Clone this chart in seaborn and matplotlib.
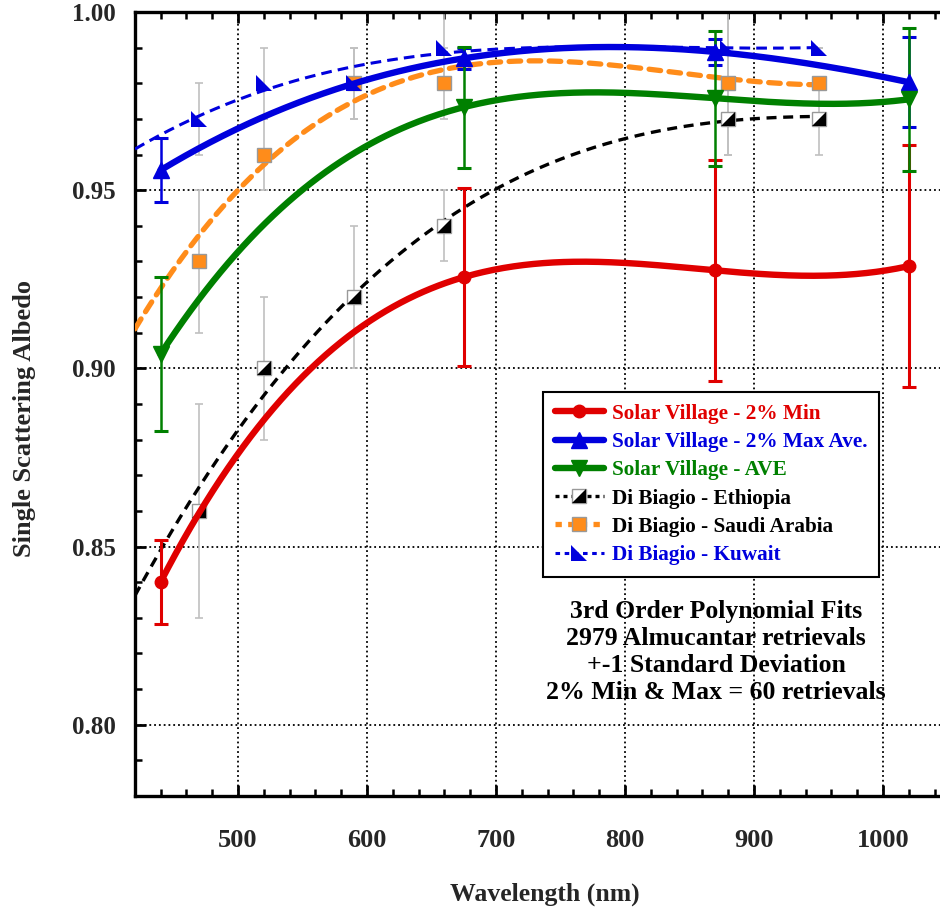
import numpy as np
import pandas as pd
import matplotlib
matplotlib.use("Agg")
import matplotlib.pyplot as plt
import seaborn as sns
from matplotlib.lines import Line2D
from matplotlib.legend_handler import HandlerTuple
from matplotlib.ticker import MultipleLocator

# ---------------- data ----------------
sv_wl = [440, 675, 870, 1020]
sv_min = [0.840, 0.9256, 0.9275, 0.9287]
sv_min_err = [0.0117, 0.025, 0.031, 0.034]
sv_max = [0.9556, 0.987, 0.9888, 0.9803]
sv_max_err = [0.009, 0.003, 0.0037, 0.0127]
sv_ave = [0.904, 0.9733, 0.9758, 0.9755]
sv_ave_err = [0.0215, 0.017, 0.019, 0.020]

db_wl = [470, 520, 590, 660, 880, 950]
eth = [0.86, 0.90, 0.92, 0.94, 0.97, 0.97]
eth_err = [0.03, 0.02, 0.02, 0.01, 0.01, 0.01]
sau = [0.93, 0.96, 0.98, 0.98, 0.98, 0.98]
sau_err = [0.02, 0.01, 0.01, 0.01, 0.02, 0.0]
kuw = [0.97, 0.98, 0.98, 0.99, 0.99, 0.99]
kuw_err = [0.01, 0.01, 0.01, 0.01, 0.01, 0.0]

fit_wl = [420, 470, 520, 590, 660, 740, 880, 950]
eth_fit = [0.8357, 0.8670, 0.8930, 0.9210, 0.9400, 0.9580, 0.9697, 0.9705]
sau_fit = [0.9115, 0.9360, 0.9580, 0.9753, 0.9837, 0.9860, 0.9815, 0.9795]
kuw_fit = [0.9618, 0.9700, 0.9787, 0.9846, 0.9885, 0.9900, 0.9900, 0.9900]

labels = ["Solar Village - 2% Min", "Solar Village - 2% Max Ave.",
          "Solar Village - AVE", "Di Biagio - Ethiopia",
          "Di Biagio - Saudi Arabia", "Di Biagio - Kuwait"]
notes = ["3rd Order Polynomial Fits", "2979 Almucantar retrievals",
         "+-1 Standard Deviation", "2% Min & Max = 60 retrievals"]
xticks = [500, 600, 700, 800, 900, 1000]
yticks = [0.80, 0.85, 0.90, 0.95, 1.00]

RED, BLUE, GREEN, ORANGE, GREY = "#e00000", "#0000dd", "#008000", "#ff8c1a", "#c0c0c0"

sns.set_theme(style="white")
plt.rcParams["font.family"] = ["Liberation Serif", "DejaVu Serif"]
plt.rcParams["font.weight"] = "bold"

fig = plt.figure(figsize=(9.4, 9.1), dpi=100)
ax = fig.add_axes([0.1436, 0.1253, 0.8585, 0.8615])
ax.set_xlim(420.2, 1045.7)
ax.set_ylim(0.78, 1.00)

ax.grid(True, which="major", color="black", linestyle=":", linewidth=1.3, zorder=0)
ax.set_axisbelow(True)


def fit(xs, ys, lo, hi):
    c = np.polyfit(xs, ys, 3)
    xx = np.linspace(lo, hi, 300)
    return pd.DataFrame({"x": xx, "y": np.polyval(c, xx)})


# Di Biagio error bars (grey)
for vals, errs in [(eth, eth_err), (sau, sau_err), (kuw, kuw_err)]:
    ax.errorbar(db_wl, vals, yerr=errs, fmt="none", ecolor=GREY, elinewidth=1.2,
                capsize=3, capthick=1.2, zorder=2)

# Di Biagio fits
d = fit(fit_wl, eth_fit, 420.2, 950)
sns.lineplot(data=d, x="x", y="y", ax=ax, color="black", lw=2.4,
             linestyle=(0, (3, 2)), legend=False, zorder=3)
d = fit(fit_wl, sau_fit, 420.2, 950)
sns.lineplot(data=d, x="x", y="y", ax=ax, color=ORANGE, lw=3.8,
             linestyle=(0, (2.2, 1.6)), dash_capstyle="round", legend=False, zorder=3)
d = fit(fit_wl, kuw_fit, 420.2, 950)
sns.lineplot(data=d, x="x", y="y", ax=ax, color=BLUE, lw=2.2,
             linestyle=(0, (3.5, 2)), legend=False, zorder=3)

# Di Biagio markers
tri_lr = [(-1, -1), (1, -1), (1, 1)]
tri_ll = [(-1, 1), (-1, -1), (1, -1)]
ax.plot(db_wl, eth, ls="none", marker="s", ms=10, mfc="white", mec="#999999", mew=1, zorder=4)
ax.plot(db_wl, eth, ls="none", marker=tri_lr, ms=10, mfc="black", mec="black", mew=0, zorder=5)
ax.plot(db_wl, sau, ls="none", marker="s", ms=10, mfc=ORANGE, mec="#999999", mew=1, zorder=4)
ax.plot(db_wl, kuw, ls="none", marker=tri_ll, ms=11, mfc=BLUE, mec=BLUE, mew=0, zorder=5)

# Solar Village fits and points
for vals, errs, col, mk, ms in [(sv_min, sv_min_err, RED, "o", 9),
                                (sv_max, sv_max_err, BLUE, "^", 11),
                                (sv_ave, sv_ave_err, GREEN, "v", 11)]:
    d = fit(sv_wl, vals, 440, 1020)
    sns.lineplot(data=d, x="x", y="y", ax=ax, color=col, lw=4.6, legend=False, zorder=6)
    ax.errorbar(sv_wl, vals, yerr=errs, fmt=mk, color=col, ms=ms, ecolor=col,
                elinewidth=2.2 if col == RED else 1.8, capsize=5, capthick=2.2, zorder=7)

# axes styling
ax.set_xticks(xticks)
ax.set_yticks(yticks)
ax.set_xticklabels([str(v) for v in xticks])
ax.set_yticklabels([f"{v:.2f}" for v in yticks])
ax.xaxis.set_minor_locator(MultipleLocator(20))
ax.yaxis.set_minor_locator(MultipleLocator(0.01))
ax.tick_params(which="both", direction="in", top=True, right=False, left=True, bottom=True,
               color="black")
ax.tick_params(axis="x", which="major", length=8, width=2, labelsize=19, pad=24)
ax.tick_params(axis="y", which="major", length=8, width=2, labelsize=18, pad=14)
ax.tick_params(which="minor", length=5, width=1.8)
for t in ax.get_xticklabels() + ax.get_yticklabels():
    t.set_fontweight("bold")
for s in ["left", "top", "bottom"]:
    ax.spines[s].set_color("black")
    ax.spines[s].set_linewidth(2.4)
ax.spines["right"].set_visible(False)

ax.set_xlabel("Wavelength (nm)", fontsize=18.5, fontweight="bold", va="center")
ax.xaxis.set_label_coords(0.508, -0.126)
ax.set_ylabel("Single Scattering Albedo", fontsize=19, fontweight="bold", va="center")
ax.yaxis.set_label_coords(-0.1375, 0.482)

# legend
h_min = Line2D([], [], color=RED, lw=4.6, marker="o", ms=9)
h_max = Line2D([], [], color=BLUE, lw=4.6, marker="^", ms=11)
h_ave = Line2D([], [], color=GREEN, lw=4.6, marker="v", ms=11)
h_eth = (Line2D([], [], color="black", lw=2.4, ls=(0, (1.2, 1.2)), marker="s", ms=10,
                mfc="white", mec="#999999"),
         Line2D([], [], ls="none", marker=tri_lr, ms=10, mfc="black", mec="black", mew=0))
h_sau = Line2D([], [], color=ORANGE, lw=3.8, ls=(0, (1.2, 1.2)), marker="s", ms=10,
               mfc=ORANGE, mec="#999999")
h_kuw = Line2D([], [], color=BLUE, lw=2.2, ls=(0, (1.5, 1.5)), marker=tri_ll, ms=11,
               mfc=BLUE, mec=BLUE, mew=0)
leg = ax.legend([h_min, h_max, h_ave, h_eth, h_sau, h_kuw], labels,
                handler_map={tuple: HandlerTuple(ndivide=1, pad=0)},
                loc="upper left", bbox_to_anchor=(0.5056, 0.5153), borderaxespad=0,
                fontsize=15.3, frameon=True, fancybox=False, edgecolor="black",
                framealpha=1, handlelength=2.3, handletextpad=0.4, labelspacing=0.39,
                borderpad=0.55)
leg.get_frame().set_linewidth(1.5)
leg.set_zorder(10)
for txt, col in zip(leg.get_texts(), [RED, BLUE, GREEN, "black", "black", BLUE]):
    txt.set_color(col)
    txt.set_fontweight("bold")

ax.text(0.72, 0.184, "\n".join(notes), transform=ax.transAxes, ha="center", va="center",
        multialignment="center", fontsize=18.5, fontweight="bold", linespacing=1.23,
        color="black", zorder=11)

fig.savefig("out.png", dpi=100)
